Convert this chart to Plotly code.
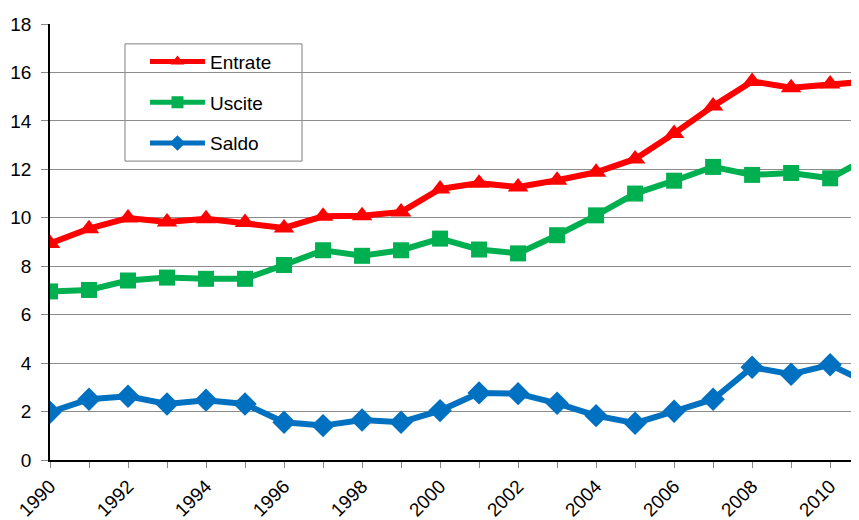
import plotly.graph_objects as go

years = list(range(1990, 2012))
entrate = [8.94, 9.55, 9.99, 9.83, 9.96, 9.80, 9.58, 10.06, 10.08, 10.24, 11.19,
           11.43, 11.27, 11.55, 11.88, 12.43, 13.48, 14.61, 15.63, 15.37, 15.52, 15.63]
uscite = [6.96, 7.02, 7.41, 7.53, 7.48, 7.48, 8.05, 8.66, 8.43, 8.66, 9.14,
          8.69, 8.53, 9.28, 10.10, 11.00, 11.53, 12.10, 11.77, 11.85, 11.63, 12.50]
saldo = [1.97, 2.51, 2.63, 2.31, 2.47, 2.31, 1.56, 1.42, 1.65, 1.56, 2.04,
         2.77, 2.74, 2.34, 1.83, 1.52, 2.01, 2.51, 3.83, 3.54, 3.93, 3.15]

series = [
    ("Entrate", entrate, "#FF0000", "triangle-up", 18),
    ("Uscite", uscite, "#00B050", "square", 16),
    ("Saldo", saldo, "#0070C0", "diamond", 18),
]

fig = go.Figure()
for i, (name, vals, col, sym, ms) in enumerate(series):
    fig.add_trace(go.Scatter(
        x=years, y=vals, name=name, mode="lines+markers",
        line=dict(color=col, width=6),
        marker=dict(symbol=sym, size=ms, color=col),
        legendgroup=f"g{i}",
    ))

# legend frame
fig.add_shape(type="rect", xref="paper", yref="paper",
              x0=0.0927, x1=0.3115, y0=0.6856, y1=0.9544,
              line=dict(color="#7f7f7f", width=1), fillcolor="white", layer="below")

fig.update_layout(
    width=851, height=512,
    margin=dict(l=42, r=0, t=16, b=57),
    plot_bgcolor="white", paper_bgcolor="white",
    font=dict(family="Liberation Sans, Arial, sans-serif", color="black", size=19),
    showlegend=True,
    legend=dict(
        x=0.1174, y=0.957, xanchor="left", yanchor="top",
        borderwidth=0, bgcolor="rgba(0,0,0,0)",
        font=dict(size=19), itemwidth=55,
        traceorder="grouped", tracegroupgap=13,
        itemsizing="constant",
    ),
    xaxis=dict(
        range=[1990, 2010.74], tick0=1990, dtick=2,
        tickangle=-45, showgrid=False, zeroline=False,
        showline=True, linecolor="black", linewidth=1.5,
        ticks="outside", ticklen=6, tickcolor="#888888",
        minor=dict(dtick=1, ticks="outside", ticklen=6, tickcolor="#888888"),
    ),
    yaxis=dict(
        range=[0, 18], dtick=2, showgrid=True, gridcolor="#8c8c8c", gridwidth=1,
        zeroline=False, showline=True, linecolor="black", linewidth=1.5,
        ticks="outside", ticklen=7, tickcolor="#888888", ticklabelstandoff=6,
    ),
)

fig.write_html("out.html")
